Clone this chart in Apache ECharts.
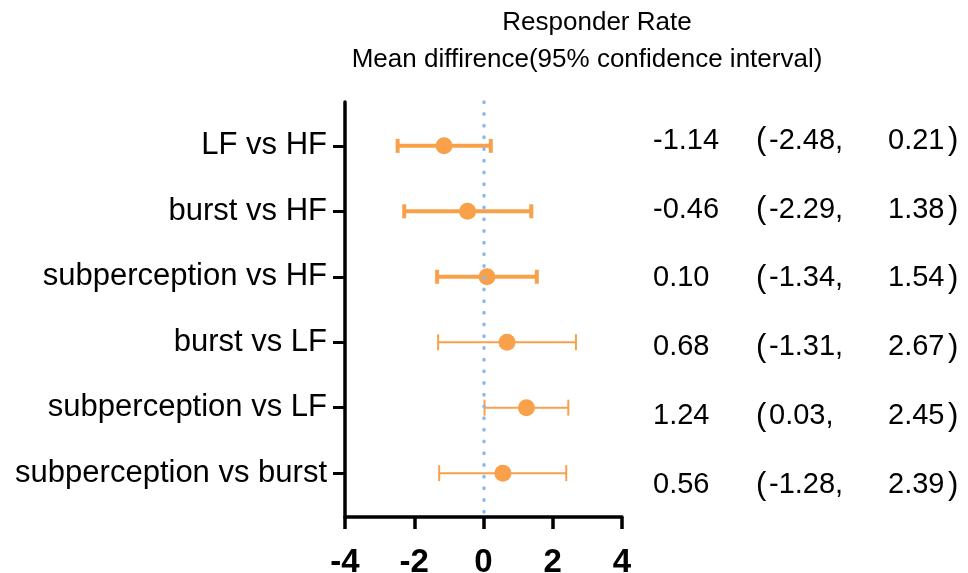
<!doctype html>
<html lang="en">
<head>
    <meta charset="UTF-8">
    <title>Responder Rate</title>
    <style>
        html, body { margin: 0; padding: 0; background: #fff; }
        #chart { width: 968px; height: 573px; }
    </style>
</head>
<body>
<div id="chart"></div>
<script src="https://cdn.jsdelivr.net/npm/echarts@6/dist/echarts.min.js"></script>
<script>
    var comparisons = ['LF vs HF', 'burst vs HF', 'subperception vs HF', 'burst vs LF', 'subperception vs LF', 'subperception vs burst'];
    var meanDiff = [-1.14, -0.46, 0.10, 0.68, 1.24, 0.56];
    var ciLow = [-2.48, -2.29, -1.34, -1.31, 0.03, -1.28];
    var ciHigh = [0.21, 1.38, 1.54, 2.67, 2.45, 2.39];
    var xTicks = [-4, -2, 0, 2, 4];
    var titleLines = ['Responder Rate', 'Mean diffirence(95% confidence interval)'];

    var orange = '#F9A04A';
    var rowIdx = comparisons.map(function (c, i) { return i; });

    var pointData = [];
    var barData = [];
    for (var i = 0; i < comparisons.length; i++) {
        pointData.push([meanDiff[i], i]);
        barData.push([ciLow[i], ciHigh[i], i]);
    }

    function fmt(v) {
        return v.toFixed(2);
    }

    var txt = {fontFamily: 'Liberation Sans', color: '#000'};
    var titleStyle = {fontFamily: 'Liberation Sans', fontSize: 26, fontWeight: 'normal', color: '#000', lineHeight: 36};

    var myChart = echarts.init(document.getElementById('chart'));
    myChart.setOption({
        animation: false,
        title: [{
            text: titleLines[0],
            left: 592,
            top: 0,
            textAlign: 'center',
            textStyle: titleStyle
        }, {
            text: titleLines[1],
            left: 582,
            top: 37,
            textAlign: 'center',
            textStyle: titleStyle
        }],
        grid: {
            left: 345,
            right: 346,
            top: 102,
            bottom: 56,
            outerBoundsMode: 'none'
        },
        xAxis: {
            type: 'value',
            min: xTicks[0],
            max: xTicks[xTicks.length - 1],
            interval: xTicks[1] - xTicks[0],
            splitLine: {show: false},
            axisLine: {onZero: false, lineStyle: {color: '#000', width: 3.5}},
            axisTick: {length: 12, lineStyle: {color: '#000', width: 3.5}},
            axisLabel: {
                margin: 29,
                color: '#000',
                fontFamily: 'Liberation Sans',
                fontSize: 33,
                fontWeight: 'bold'
            }
        },
        yAxis: [{
            type: 'value',
            inverse: true,
            min: -0.67,
            max: 5.67,
            splitLine: {show: false},
            axisLine: {show: true, onZero: false, lineStyle: {color: '#000', width: 3.5}},
            axisTick: {show: true, length: 12, customValues: rowIdx, lineStyle: {color: '#000', width: 3}},
            axisLabel: {
                customValues: rowIdx,
                margin: 18,
                color: '#000',
                fontFamily: 'Liberation Sans',
                fontSize: 31,
                formatter: function (v) {
                    return comparisons[Math.round(v)];
                }
            }
        }, {
            type: 'value',
            position: 'right',
            inverse: true,
            min: -0.56,
            max: 5.46,
            splitLine: {show: false},
            axisLine: {show: false, onZero: false},
            axisTick: {show: false},
            axisLabel: {
                customValues: rowIdx,
                margin: 31,
                formatter: function (v) {
                    var k = Math.round(v);
                    return '{m|' + fmt(meanDiff[k]) + '}{p|(}{l|' + fmt(ciLow[k]) + ',}{h|' + fmt(ciHigh[k]) + '}{q|)}';
                },
                rich: {
                    m: echarts.util.extend({width: 103, fontSize: 29}, txt),
                    p: echarts.util.extend({width: 13, fontSize: 31}, txt),
                    l: echarts.util.extend({width: 119, fontSize: 29}, txt),
                    h: echarts.util.extend({width: 60, fontSize: 29}, txt),
                    q: echarts.util.extend({fontSize: 31}, txt)
                }
            }
        }],
        series: [{
            type: 'custom',
            name: 'CI',
            data: barData,
            encode: {x: [0, 1], y: 2},
            z: 2,
            renderItem: function (params, api) {
                var y = api.value(2);
                var lo = api.coord([api.value(0), y]);
                var hi = api.coord([api.value(1), y]);
                var thick = params.dataIndex < 3;
                var w = thick ? 4 : 2;
                var h = thick ? 7 : 8;
                var st = {stroke: orange, lineWidth: w};
                return {
                    type: 'group',
                    children: [
                        {type: 'line', shape: {x1: lo[0], y1: lo[1], x2: hi[0], y2: hi[1]}, style: st},
                        {type: 'line', shape: {x1: lo[0], y1: lo[1] - h, x2: lo[0], y2: lo[1] + h}, style: st},
                        {type: 'line', shape: {x1: hi[0], y1: hi[1] - h, x2: hi[0], y2: hi[1] + h}, style: st}
                    ]
                };
            }
        }, {
            type: 'scatter',
            name: 'Mean',
            data: pointData,
            symbolSize: 17,
            z: 4,
            itemStyle: {color: orange, opacity: 1},
            markLine: {
                silent: true,
                symbol: ['none', 'none'],
                label: {show: false},
                lineStyle: {color: '#8CB8EA', width: 3.5, type: [0.5, 11.2], cap: 'round', opacity: 1},
                data: [{xAxis: 0}]
            }
        }]
    });
</script>
</body>
</html>
